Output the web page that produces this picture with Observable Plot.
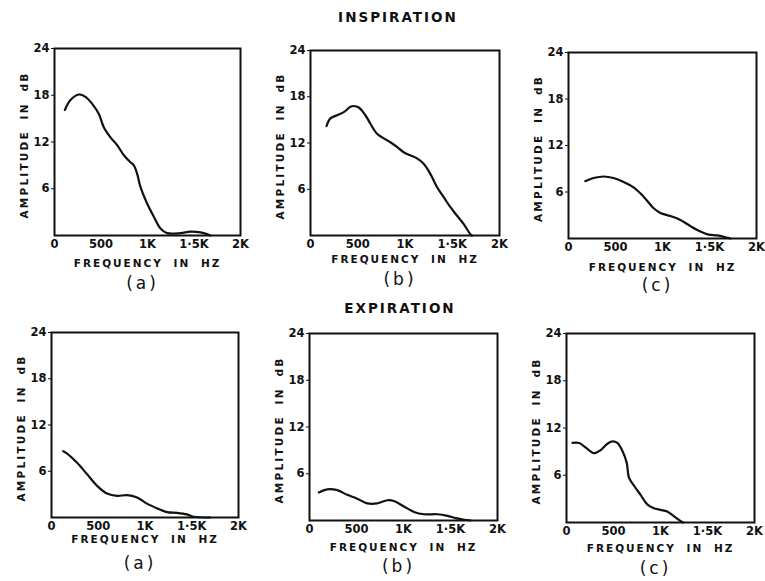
<!DOCTYPE html>
<html>
<head>
<meta charset="utf-8">
<script src="https://cdn.jsdelivr.net/npm/d3@7"></script>
<script src="https://cdn.jsdelivr.net/npm/@observablehq/plot@0.6"></script>
<style>
  html, body { margin: 0; padding: 0; background: #fff; }
  #wrap { position: relative; width: 765px; height: 581px; overflow: hidden; font-family: "DejaVu Sans", sans-serif; color: #111; }
  #wrap svg { position: absolute; overflow: visible; }
  .rowtitle { position: absolute; font-weight: bold; font-size: 13.5px; letter-spacing: 2px; transform: translate(-50%, -50%); white-space: nowrap; }
</style>
</head>
<body>
<div id="wrap"></div>
<script>
// ---- tick labels and titles ----
const xTicks = [0, 500, 1000, 1500, 2000];
const xTickLabels = ["0", "500", "1K", "1·5K", "2K"];
const yTicks = [6, 12, 18, 24];
const panelLetters = ["(a)", "(b)", "(c)"];
const rowTitles = ["INSPIRATION", "EXPIRATION"];
const xAxisLabel = "FREQUENCY IN HZ";
const yAxisLabel = "AMPLITUDE IN dB";

// ---- series (frequency in Hz, amplitude in dB) ----
const inspA_freq = [111, 172, 262, 333, 405, 477, 530, 602, 674, 746, 817, 853, 889, 925, 996, 1068, 1140, 1211, 1355, 1462, 1570, 1660, 1677];
const inspA_amp  = [16.1, 17.4, 18.1, 17.8, 16.9, 15.6, 13.9, 12.6, 11.6, 10.3, 9.4, 9.0, 7.9, 6.2, 4.1, 2.4, 0.9, 0.3, 0.3, 0.5, 0.4, 0.1, 0];

const inspB_freq = [169, 211, 282, 352, 423, 458, 511, 581, 634, 704, 775, 845, 915, 986, 1056, 1127, 1197, 1268, 1338, 1408, 1479, 1549, 1620, 1690, 1708];
const inspB_amp  = [14.2, 15.2, 15.6, 16.0, 16.7, 16.8, 16.6, 15.6, 14.5, 13.2, 12.6, 12.1, 11.5, 10.8, 10.4, 10.0, 9.3, 8.0, 6.3, 5.0, 3.7, 2.6, 1.5, 0.2, 0];

const inspC_freq = [178, 266, 373, 480, 586, 693, 799, 906, 977, 1083, 1190, 1297, 1403, 1492, 1581, 1688, 1723];
const inspC_amp  = [7.4, 7.8, 8.0, 7.8, 7.3, 6.6, 5.4, 3.9, 3.3, 2.9, 2.4, 1.6, 0.9, 0.5, 0.4, 0.1, 0];

const expA_freq = [125, 167, 274, 381, 488, 594, 701, 808, 915, 1021, 1128, 1235, 1342, 1448, 1520, 1698];
const expA_amp  = [8.6, 8.3, 7.1, 5.6, 4.1, 3.1, 2.8, 2.9, 2.6, 1.8, 1.2, 0.7, 0.6, 0.4, 0.1, 0];

const expB_freq = [99, 188, 295, 401, 508, 615, 721, 828, 899, 1005, 1112, 1218, 1360, 1467, 1556, 1645, 1716];
const expB_amp  = [3.6, 4.0, 3.9, 3.3, 2.8, 2.2, 2.2, 2.6, 2.5, 1.8, 1.1, 0.8, 0.8, 0.6, 0.3, 0.1, 0];

const expC_freq = [64, 134, 205, 293, 364, 435, 488, 541, 594, 640, 665, 717, 788, 859, 929, 1000, 1071, 1141, 1212, 1240];
const expC_amp  = [10.1, 10.1, 9.5, 8.8, 9.2, 10.0, 10.3, 10.1, 9.1, 7.6, 5.7, 4.7, 3.5, 2.3, 1.8, 1.6, 1.4, 0.8, 0.2, 0];

// ---- layout ----
const ML = 50, MR = 8, MT = 8, MB = 64;
const panels = [
  {freq: inspA_freq, amp: inspA_amp, letter: 0, fx: 54,  fy: 48,  fw: 186, fh: 187, xl: 28, lt: 48},
  {freq: inspB_freq, amp: inspB_amp, letter: 1, fx: 310, fy: 50,  fw: 189, fh: 185, xl: 24, lt: 44},
  {freq: inspC_freq, amp: inspC_amp, letter: 2, fx: 568, fy: 52,  fw: 188, fh: 186, xl: 29, lt: 47},
  {freq: expA_freq,  amp: expA_amp,  letter: 0, fx: 51,  fy: 332, fw: 187, fh: 185, xl: 22, lt: 46},
  {freq: expB_freq,  amp: expB_amp,  letter: 1, fx: 309, fy: 333, fw: 188, fh: 187, xl: 27, lt: 46},
  {freq: expC_freq,  amp: expC_amp,  letter: 2, fx: 566, fy: 333, fw: 188, fh: 189, xl: 26, lt: 46}
];

const ink = "#111";
const wrap = document.getElementById("wrap");

for (const p of panels) {
  const data = p.freq.map((f, i) => ({f, a: p.amp[i]}));
  const svg = Plot.plot({
    width: ML + p.fw + MR,
    height: MT + p.fh + MB,
    marginLeft: ML, marginRight: MR, marginTop: MT, marginBottom: MB,
    style: {fontFamily: "DejaVu Sans, sans-serif", fontSize: "11.5px", fontWeight: "bold", color: ink, background: "transparent", overflow: "visible"},
    x: {domain: [0, 2000], ticks: xTicks, tickFormat: d => xTickLabels[xTicks.indexOf(d)], tickSize: 0, tickPadding: 4, label: null},
    y: {domain: [0, 24], ticks: yTicks, tickSize: 3, tickPadding: 2, label: null},
    marks: [
      Plot.frame({stroke: ink, strokeWidth: 2}),
      Plot.line(data, {x: "f", y: "a", curve: "catmull-rom", stroke: ink, strokeWidth: 2.2}),
      Plot.text([xAxisLabel], {text: d => d, frameAnchor: "bottom", dy: p.xl, textAnchor: "middle", lineAnchor: "middle", fontSize: 10.5, fontWeight: "bold", fill: ink}),
      Plot.text([yAxisLabel], {text: d => d, frameAnchor: "left", dx: -30, dy: 3, rotate: -90, textAnchor: "middle", lineAnchor: "middle", fontSize: 10.5, fontWeight: "bold", fill: ink}),
      Plot.text([panelLetters[p.letter]], {text: d => d, frameAnchor: "bottom", dx: -5, dy: p.lt, textAnchor: "middle", lineAnchor: "middle", fontSize: 17, fontWeight: "normal", fill: ink})
    ]
  });
  const s = d3.select(svg);
  s.selectAll("text").filter(function () { return this.textContent === xAxisLabel; })
    .style("letter-spacing", "2px").style("word-spacing", "5px");
  s.selectAll("text").filter(function () { return this.textContent === yAxisLabel; })
    .style("letter-spacing", "2.2px").style("word-spacing", "5px");
  s.selectAll("text").filter(function () { return panelLetters.includes(this.textContent); })
    .style("letter-spacing", "3px");
  svg.style.left = (p.fx - ML) + "px";
  svg.style.top = (p.fy - MT) + "px";
  wrap.appendChild(svg);
}

const titlePos = [{x: 398, y: 17}, {x: 400, y: 308}];
rowTitles.forEach((t, i) => {
  const d = document.createElement("div");
  d.className = "rowtitle";
  d.textContent = t;
  d.style.left = titlePos[i].x + "px";
  d.style.top = titlePos[i].y + "px";
  wrap.appendChild(d);
});
</script>
</body>
</html>
